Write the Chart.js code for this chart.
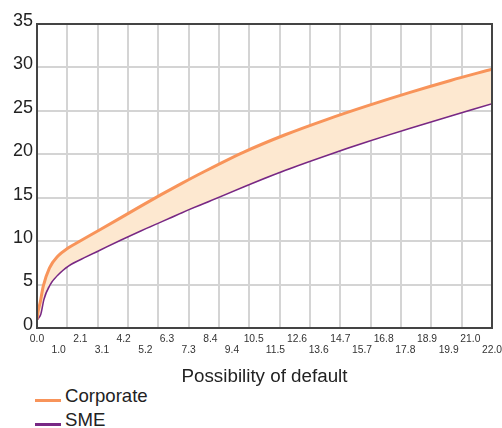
<!DOCTYPE html>
<html>
<head>
<meta charset="utf-8">
<script src="https://cdn.jsdelivr.net/npm/chart.js@4"></script>
<style>
  body { margin: 0; background: #fff; font-family: 'Liberation Sans', Arial, sans-serif; }
  .wrap { width: 502px; height: 428px; overflow: hidden; }
  .chart-box { position: relative; width: 502px; height: 387px; }
  .legend { list-style: none; margin: -3px 0 0 0; padding: 0 0 0 35px; }
  .legend li { display: flex; align-items: center; height: 24px; font-size: 18.6px; color: #222; }
  .legend .swatch { width: 26px; height: 3px; margin-right: 4px; position: relative; top: 4px; }
</style>
</head>
<body>
<div class="wrap">
  <div class="chart-box"><canvas id="myChart"></canvas></div>
  <ul class="legend" id="legend"></ul>
</div>
<script>
const xMax = 22;
const yTicks = [0, 5, 10, 15, 20, 25, 30, 35];
const xTickLabels = ['0.0', '1.0', '2.1', '3.1', '4.2', '5.2', '6.3', '7.3', '8.4', '9.4', '10.5',
  '11.5', '12.6', '13.6', '14.7', '15.7', '16.8', '17.8', '18.9', '19.9', '21.0', '22.0'];
const gridCount = 15;

// points
const xValues = [0, 0.05, 0.15, 0.3, 0.6, 1.0, 1.5, 2.0, 3.0, 4.0, 5.0, 6.0, 7.0, 8.0, 10, 12, 14, 16, 18, 20, 22];
const corporate = [1.0, 1.9, 2.9, 4.8, 6.9, 8.25, 9.2, 9.9, 11.25, 12.62, 14.0, 15.35, 16.65, 17.9, 20.25, 22.25, 24.0, 25.6, 27.1, 28.5, 29.8];
const sme = [1.0, 1.2, 1.6, 3.3, 5.0, 6.2, 7.2, 7.85, 9.0, 10.15, 11.25, 12.3, 13.35, 14.35, 16.35, 18.25, 19.95, 21.55, 23.05, 24.5, 25.9];

const toPoints = (ys) => xValues.map((x, i) => ({ x, y: ys[i] }));

const frame = {
  id: 'frame',
  afterDraw: (chart) => {
    const { ctx, chartArea: a } = chart;
    ctx.save();
    ctx.strokeStyle = '#444';
    ctx.lineWidth = 2;
    ctx.strokeRect(a.left, a.top, a.right - a.left, a.bottom - a.top);
    ctx.restore();
  }
};

const ctx = document.getElementById('myChart').getContext('2d');

const myChart = new Chart(ctx, {
  type: 'line',
  data: {
    datasets: [
      {
        label: 'Corporate',
        data: toPoints(corporate),
        borderColor: '#f8945a',
        backgroundColor: '#fde8d0',
        borderWidth: 3,
        fill: '+1'
      },
      {
        label: 'SME',
        data: toPoints(sme),
        borderColor: '#782884',
        backgroundColor: '#782884',
        borderWidth: 3,
        fill: false
      }
    ]
  },
  options: {
    responsive: true,
    maintainAspectRatio: false,
    animation: false,
    layout: { padding: { top: 24, right: 0, left: 0, bottom: 0 } },
    elements: {
      point: { radius: 0 },
      line: { cubicInterpolationMode: 'monotone' }
    },
    plugins: {
      legend: { display: false },
      tooltip: { enabled: false }
    },
    scales: {
      x: {
        type: 'linear',
        min: 0,
        max: xMax,
        afterBuildTicks: (axis) => {
          axis.ticks = xTickLabels.map((t, i) => ({ value: (i * xMax) / (xTickLabels.length - 1) }));
        },
        afterFit: (axis) => {
          axis.height = 59;
          axis.paddingRight = 10;
        },
        grid: { display: false, drawTicks: false },
        border: { display: false },
        ticks: {
          autoSkip: false,
          maxRotation: 0,
          padding: 5,
          color: '#333',
          font: { family: 'Liberation Sans', size: 10.3, lineHeight: 1.1 },
          callback: (v, i) => (i % 2 ? ['', xTickLabels[i]] : xTickLabels[i])
        },
        title: {
          display: true,
          text: 'Possibility of default',
          color: '#222',
          font: { family: 'Liberation Sans', size: 18.8, lineHeight: 1.1 },
          padding: { top: 10, bottom: 0 }
        }
      },
      xGrid: {
        type: 'linear',
        position: 'bottom',
        min: 0,
        max: xMax,
        afterBuildTicks: (axis) => {
          const t = [];
          for (let i = 0; i <= gridCount; i++) t.push({ value: (i * xMax) / gridCount });
          axis.ticks = t;
        },
        afterFit: (axis) => {
          axis.height = 0;
          axis.paddingLeft = 0;
          axis.paddingRight = 0;
        },
        grid: { color: '#d4d4d4', lineWidth: 2, drawTicks: false },
        border: { display: false },
        ticks: { display: false }
      },
      y: {
        min: 0,
        max: 35,
        afterBuildTicks: (axis) => {
          axis.ticks = yTicks.map((v) => ({ value: v }));
        },
        afterFit: (axis) => {
          axis.width = 37;
          axis.paddingTop = 0;
          axis.paddingBottom = 0;
        },
        grid: { color: '#d4d4d4', lineWidth: 2, drawTicks: false },
        border: { display: false },
        ticks: {
          padding: 4,
          color: '#222',
          font: { family: 'Liberation Sans', size: 18, lineHeight: 0.35 },
          callback: (v) => [String(v), '']
        }
      }
    }
  },
  plugins: [frame]
});

const legend = document.getElementById('legend');
legend.innerHTML = myChart.data.datasets
  .map((d) => `<li><span class="swatch" style="background:${d.borderColor}"></span>${d.label}</li>`)
  .join('');
</script>
</body>
</html>
